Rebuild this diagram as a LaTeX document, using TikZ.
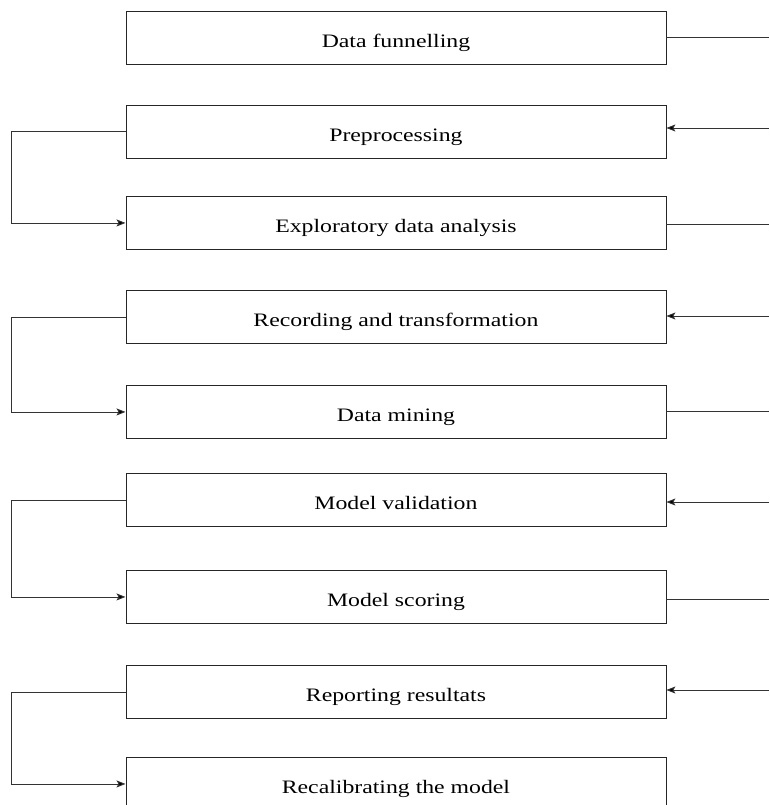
\documentclass[tikz,border=0pt]{standalone}
\usepackage{fontspec}
\setmainfont{Liberation Serif}[FakeStretch=1.25]
\usetikzlibrary{arrows.meta}
\begin{document}
\begin{tikzpicture}[x=1pt,y=-1pt,
  stagebox/.style={draw=black!85,line width=0.9pt,minimum width=540pt,minimum height=53pt,inner sep=0pt,
    text height=21pt,text depth=2pt,
    font=\fontsize{19}{22}\selectfont,anchor=north west},
  conn/.style={draw=black!80,line width=0.9pt},
  arr/.style={conn,-{Stealth[length=9pt,width=7pt,inset=2pt,fill=black]}}]
\clip (0,0) rectangle (769,805);
\useasboundingbox (0,0) rectangle (769,805);
\node[stagebox] (b1) at (125.5,11) {Data funnelling};
\node[stagebox] (b2) at (125.5,105) {Preprocessing};
\node[stagebox] (b3) at (125.5,196) {Exploratory data analysis};
\node[stagebox] (b4) at (125.5,290) {Recording and transformation};
\node[stagebox] (b5) at (125.5,385) {Data mining};
\node[stagebox] (b6) at (125.5,473) {Model validation};
\node[stagebox] (b7) at (125.5,570) {Model scoring};
\node[stagebox] (b8) at (125.5,665) {Reporting resultats};
\node[stagebox] (b9) at (125.5,757) {Recalibrating the model};
% right side connectors
\coordinate (r1) at (769,37);
\coordinate (r2) at (769,128);
\coordinate (r3) at (769,224);
\coordinate (r4) at (769,316);
\coordinate (r5) at (769,411);
\coordinate (r6) at (769,502);
\coordinate (r7) at (769,599);
\coordinate (r8) at (769,690);
\draw[conn] (r1 -| b1.east) -- (r1);
\draw[arr] (r2) -- (r2 -| b2.east);
\draw[conn] (r3 -| b3.east) -- (r3);
\draw[arr] (r4) -- (r4 -| b4.east);
\draw[conn] (r5 -| b5.east) -- (r5);
\draw[arr] (r6) -- (r6 -| b6.east);
\draw[conn] (r7 -| b7.east) -- (r7);
\draw[arr] (r8) -- (r8 -| b8.east);
% left loops
\draw[arr] (b2.west) -- (11.5,0 |- b2.west) -- (11.5,0 |- b3.west) -- (b3.west);
\draw[arr] (b4.west) -- (11.5,0 |- b4.west) -- (11.5,0 |- b5.west) -- (b5.west);
\draw[arr] (b6.west) -- (11.5,0 |- b6.west) -- (11.5,0 |- b7.west) -- (b7.west);
\draw[arr] (b8.west) -- (11.5,0 |- b8.west) -- (11.5,0 |- b9.west) -- (b9.west);
\end{tikzpicture}
\end{document}
